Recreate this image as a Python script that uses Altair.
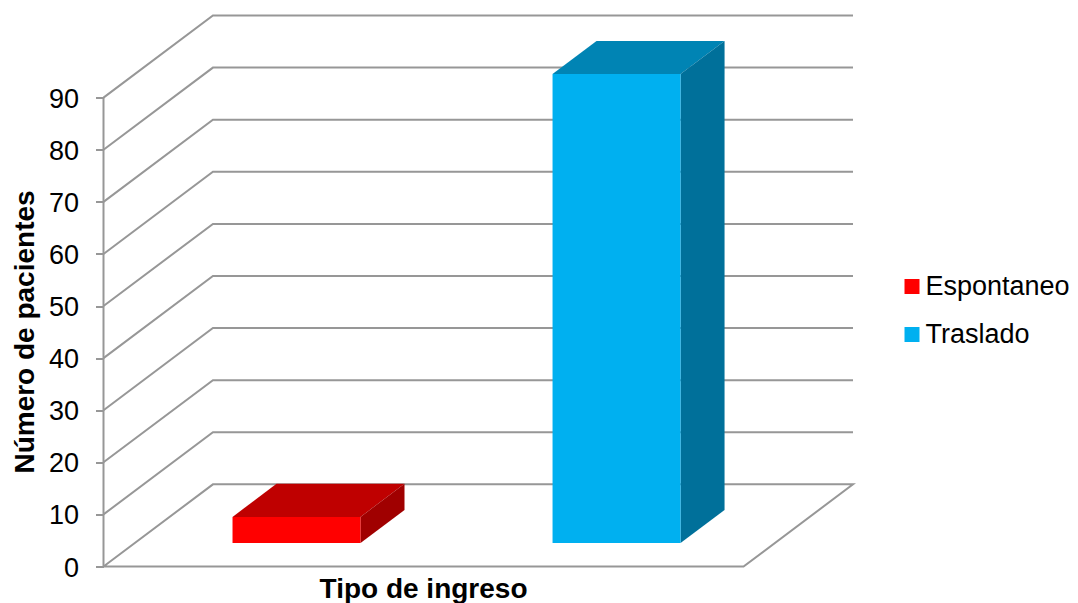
import altair as alt
import pandas as pd

# chart values
categories = ["Espontaneo", "Traslado"]
values = [5, 90]
ticks = [0, 10, 20, 30, 40, 50, 60, 70, 80, 90]
front_colors = ["#FF0000", "#00B0F0"]
top_colors = ["#BF0000", "#0084B4"]
side_colors = ["#A00000", "#00709A"]

# oblique projection of the 3D chart, in axis units
DEPTH_X = 0.342
DEPTH_Y = 15.77
BAR_W = 0.40
BAR_SHIFT = 0.005
D0, D1 = 0.287, 0.689
N = len(categories)
XMAX = N + DEPTH_X
YMAX = max(ticks) + DEPTH_Y
FONT = "Liberation Sans"
GRID = "#979797"

xs = alt.Scale(domain=[0, XMAX], nice=False, zero=False)
ys = alt.Scale(domain=[0, YMAX], nice=False, zero=False)

x_axis = alt.Axis(
    title="Tipo de ingreso", labels=False, ticks=False, domain=False, grid=False,
    titleFont=FONT, titleFontSize=28, titleFontWeight="bold", titleColor="#000000",
    titleX=319.5, titleY=8.5)
y_axis = alt.Axis(
    title="Número de pacientes", values=ticks, grid=False, domain=False,
    tickColor=GRID, tickWidth=2, tickSize=8,
    labelFont=FONT, labelFontSize=27, labelColor="#000000", labelPadding=17, labelOffset=1.5,
    titleFont=FONT, titleFontSize=28, titleFontWeight="bold", titleColor="#000000",
    titleX=-64, titleY=316)

# grid lines on side and back walls
grid_rows = []
for t in ticks[1:]:
    for i, (x, y) in enumerate([(0, t), (DEPTH_X, t + DEPTH_Y), (XMAX, t + DEPTH_Y)]):
        grid_rows.append({"k": f"g{t}", "i": i, "x": x, "y": y})
for i, (x, y) in enumerate([(0, 0), (DEPTH_X, DEPTH_Y), (XMAX, DEPTH_Y), (N, 0), (0, 0)]):
    grid_rows.append({"k": "floor", "i": i, "x": x, "y": y})

grid = alt.Chart(pd.DataFrame(grid_rows)).mark_line(color=GRID, strokeWidth=2).encode(
    x=alt.X("x:Q", scale=xs, axis=x_axis),
    y=alt.Y("y:Q", scale=ys, axis=y_axis),
    detail="k:N",
    order="i:Q",
)

axis_line = alt.Chart(pd.DataFrame({"x": [0], "y": [ticks[0]], "y2": [ticks[-1]]})).mark_rule(
    color=GRID, strokeWidth=2
).encode(
    x=alt.X("x:Q", scale=xs, axis=x_axis),
    y=alt.Y("y:Q", scale=ys, axis=y_axis),
    y2="y2:Q",
)

# bar faces
front_rows, top_rows, side_rows = [], [], []
for i, (c, v) in enumerate(zip(categories, values)):
    xl = i + 0.5 + BAR_SHIFT - BAR_W / 2 + D0 * DEPTH_X
    xr = xl + BAR_W
    base = D0 * DEPTH_Y
    top = base + v
    d = (D1 - D0)
    ddx, ddy = d * DEPTH_X, d * DEPTH_Y
    front_rows.append({"c": c, "x": xl, "x2": xr, "y": base, "y2": top})
    top_rows += [
        {"c": c, "x": xl, "lo": top, "hi": top},
        {"c": c, "x": xl + ddx, "lo": top, "hi": top + ddy},
        {"c": c, "x": xr, "lo": top, "hi": top + ddy},
        {"c": c, "x": xr + ddx, "lo": top + ddy, "hi": top + ddy},
    ]
    side_rows += [
        {"c": c, "x": xr, "lo": base, "hi": top},
        {"c": c, "x": xr + ddx, "lo": base + ddy, "hi": top + ddy},
    ]

def face(rows, colors):
    return alt.Chart(pd.DataFrame(rows)).mark_area(interpolate="linear").encode(
        x=alt.X("x:Q", scale=xs, axis=x_axis),
        y=alt.Y("lo:Q", scale=ys, axis=y_axis, stack=None),
        y2="hi:Q",
        detail="c:N",
        color=alt.Color("c:N", scale=alt.Scale(domain=categories, range=colors), legend=None),
    )

front = alt.Chart(pd.DataFrame(front_rows)).mark_rect().encode(
    x=alt.X("x:Q", scale=xs, axis=x_axis),
    x2="x2:Q",
    y=alt.Y("y:Q", scale=ys, axis=y_axis),
    y2="y2:Q",
    color=alt.Color("c:N", scale=alt.Scale(domain=categories, range=front_colors), legend=alt.Legend(
        title=None, orient="none", legendX=795, legendY=257.5, direction="vertical",
        symbolType="square", symbolSize=225, symbolStrokeWidth=0, symbolOpacity=1,
        labelFont=FONT, labelFontSize=27, labelColor="#000000", labelOffset=0,
        rowPadding=20, labelLimit=300)),
)

top_face = face(top_rows, top_colors)
side_face = face(side_rows, side_colors)

chart = (
    alt.layer(grid, axis_line, top_face, side_face, front)
    .resolve_scale(color="independent")
    .properties(
        width=749.5,
        height=551,
        autosize=alt.AutoSizeParams(type="none"),
        padding={"left": 95.5, "top": 7.5, "right": 217, "bottom": 36.5},
        background="#FFFFFF",
    )
    .configure_view(stroke=None)
)

chart.save("out.html", embed_options={"renderer": "svg", "actions": False})
